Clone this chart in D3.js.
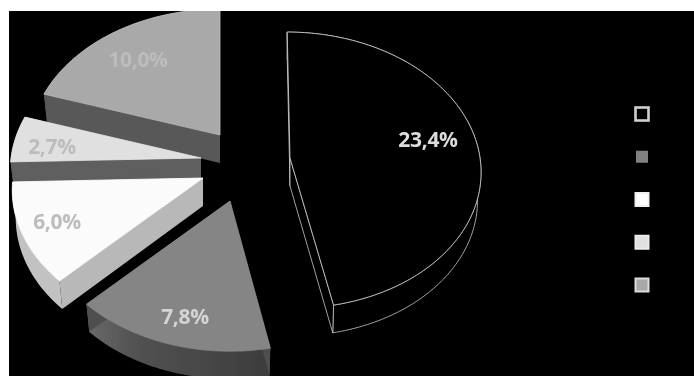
<!DOCTYPE html>
<html><head><meta charset="utf-8">
<script src="https://cdn.jsdelivr.net/npm/d3@7"></script>
<style>html,body{margin:0;padding:0;background:#fff;overflow:hidden}svg{display:block}</style>
</head><body><div id="c"></div>
<script>
const values = [23.4, 7.8, 6.0, 2.7, 10.0];
const valueLabels = ["23,4%", "7,8%", "6,0%", "2,7%", "10,0%"];

// Layout and style, kept apart from the data
const W = 694, H = 376, RX = 190, RY = 137, PERSP = 0.088, DEPTH = 28, RIM_SHRINK = 0.018;
const sliceShear = [0.022,0,0,0,0];
const sliceOrigin = [[290,158],[230,201],[203,178],[201,158],[220,135]];
const labelPos = [[428,139],[185,316],[57,221],[52,146],[138,59]];
const topFill  = ["#000","#858585","#fbfbfb","#e0e0e0","#a9a9a9"];
const topEdge  = ["#d4d4d4","#8c8c8c","#fff","#e8e8e8","#c0c0c0"];
const sideFill = ["#000","#505050","#b8b8b8","#5e5e5e","#585858"];
const outerFill= ["#000","url(#g2)","#c2c2c2","#5e5e5e","#585858"];
const sideEdge = ["#c8c8c8","none","none","none","none"];
const labelFill= ["#dcdcdc","#d4d4d4","#bdbdbd","#bcbcbc","#bcbcbc"];
const paintOrder = [4,3,0,2,1];
const legendFill = ["#000","#808080","#fff","#e0e0e0","#a8a8a8"];
const legendEdge = ["#d0d0d0","none","#f0f0f0","#ececec","#dcdcdc"];

const svg = d3.select("#c").append("svg").attr("width",W).attr("height",H);
const defs = svg.append("defs");
defs.append("filter").attr("id","soft").attr("x","-5%").attr("y","-5%").attr("width","110%").attr("height","110%")
  .append("feGaussianBlur").attr("stdDeviation",0.7);
defs.append("clipPath").attr("id","plot").append("rect")
  .attr("x",9).attr("y",11).attr("width",W-9).attr("height",H-11);
const g2 = defs.append("linearGradient").attr("id","g2")
  .attr("gradientUnits","userSpaceOnUse").attr("x1",88).attr("x2",270).attr("y1",0).attr("y2",0);
g2.append("stop").attr("offset",0).attr("stop-color","#6a6a6a");
g2.append("stop").attr("offset",0.25).attr("stop-color","#525252");
g2.append("stop").attr("offset",1).attr("stop-color","#3c3c3c");

svg.append("rect").attr("x",9).attr("y",11).attr("width",W-9).attr("height",H-11).attr("fill","#000");

const root = svg.append("g").attr("clip-path","url(#plot)").append("g").attr("filter","url(#soft)");

const pie = d3.pie().sort(null)(values);
const line = d3.line();

// 3D projection of a rim point: r=0 is the apex, z is the extrusion downwards
function project(i, angle, r, z){
  const rr = r*(1 - RIM_SHRINK*z/DEPTH);
  const X = Math.sin(angle)*rr, Y = -Math.cos(angle)*rr;
  const s = 1/(1 - PERSP*Y);
  const [ox,oy] = sliceOrigin[i];
  return [ox + RX*X*s + sliceShear[i]*RY*Y*s, oy + RY*Y*s + z*s];
}
function rim(i, a0, a1, z){
  const n = Math.max(2, Math.ceil((a1-a0)/0.02));
  return d3.range(n+1).map(k => project(i, a0 + (a1-a0)*k/n, 1, z));
}
function radial(i, a){
  return [project(i,a,0,0), project(i,a,1,0), project(i,a,1,DEPTH), project(i,a,0,DEPTH)];
}

paintOrder.forEach(i => {
  const p = pie[i], a0 = p.startAngle, a1 = p.endAngle;
  const g = root.append("g");
  const edge = sideEdge[i], w = 0.8;
  const top = rim(i,a0,a1,0), bot = rim(i,a0,a1,DEPTH).reverse();
  g.append("path").attr("d", line(top.concat(bot))+"Z")
    .attr("fill",outerFill[i]).attr("stroke",edge).attr("stroke-width",w);
  [a0,a1].forEach(a => {
    g.append("path").attr("d", line(radial(i,a))+"Z")
      .attr("fill",sideFill[i]).attr("stroke",edge).attr("stroke-width",w);
  });
  const face = [project(i,a0,0,0)].concat(top);
  g.append("path").attr("d", line(face)+"Z")
    .attr("fill",topFill[i]).attr("stroke",topEdge[i]).attr("stroke-width",0.8)
    .attr("stroke-linejoin","round");
});

root.selectAll("text.v").data(valueLabels).join("text").attr("class","v")
  .attr("x",(d,i)=>labelPos[i][0]).attr("y",(d,i)=>labelPos[i][1])
  .attr("text-anchor","middle").attr("dominant-baseline","central")
  .attr("font-family","'Open Sans', sans-serif").attr("font-weight",700).attr("font-size",21)
  .attr("letter-spacing",-0.3)
  .attr("fill",(d,i)=>labelFill[i]).text(d=>d);

// Legend (its entries carry no readable text in the reference)
const legendY = d3.scalePoint().domain(d3.range(values.length)).range([114,285]);
root.selectAll("rect.k").data(values).join("rect").attr("class","k")
  .attr("x",(d,i)=>642-(i===1?6:6.5)).attr("y",(d,i)=>legendY(i)-(i===1?6:6.5))
  .attr("width",(d,i)=>i===1?12:13).attr("height",(d,i)=>i===1?12:13)
  .attr("fill",(d,i)=>legendFill[i]).attr("stroke",(d,i)=>legendEdge[i])
  .attr("stroke-width",(d,i)=>i===0?2.6:2);
</script></body></html>
